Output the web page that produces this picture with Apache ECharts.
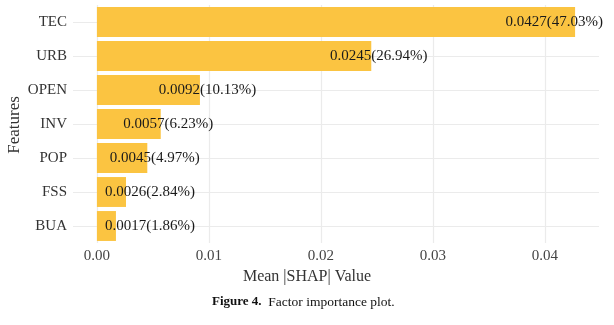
<!DOCTYPE html>
<html><head><meta charset="utf-8">
<script src="https://cdn.jsdelivr.net/npm/echarts@6/dist/echarts.min.js"></script>
<style>html,body{margin:0;padding:0;background:#fff}#c{width:614px;height:325px}</style>
</head><body><div id="c"></div>
<script>
const features = ['TEC','URB','OPEN','INV','POP','FSS','BUA'];
const meanShap = [0.0427,0.0245,0.0092,0.0057,0.0045,0.0026,0.0017];
const shares = ['47.03%','26.94%','10.13%','6.23%','4.97%','2.84%','1.86%'];
const xTickLabels = [0,0.01,0.02,0.03,0.04];
const xGridValues = [0,0.005,0.01,0.015,0.02,0.025,0.03,0.035,0.04];

const serif = '"Liberation Serif","Times New Roman",serif';
const maxV = Math.max(...meanShap);
const xMin = -maxV*0.05, xMax = maxV*1.05;
const chart = echarts.init(document.getElementById('c'), null, {renderer:'canvas'});
function build(offsets){
  return {
    animation:false,
    grid:{left:73,right:15,top:5,height:238,containLabel:false},
    xAxis:{type:'value',min:xMin,max:xMax,
      axisLine:{show:false},axisTick:{show:false},splitLine:{show:false},
      axisLabel:{customValues:xTickLabels,formatter:v=>v.toFixed(2),fontFamily:serif,fontSize:15,color:'#444',margin:6}},
    yAxis:{type:'category',data:features,inverse:true,
      axisLine:{show:false},axisTick:{show:false},
      splitLine:{show:true,alignWithLabel:true,lineStyle:{color:'#ebebeb',width:1.2}},
      axisLabel:{fontFamily:serif,fontSize:15,color:'#333',margin:6}},
    graphic:[
      {type:'text',left:'center',top:269,style:{text:'Mean |SHAP| Value',font:'16px '+serif,fill:'#333'}},
      {type:'text',x:6,y:125,rotation:Math.PI/2,style:{text:'Features',font:'17px '+serif,fill:'#333',align:'center',verticalAlign:'top'}},
      {type:'text',left:212,top:295,style:{rich:{b:{fontFamily:serif,fontWeight:'bold',fontSize:13,fill:'#111'},r:{fontFamily:serif,fontSize:13.5,fill:'#111'}},text:'{b|Figure 4.}{r|  Factor importance plot.}'}}
    ],
    series:[
      {type:'line',data:[],z:0,zlevel:0,silent:true,
        markLine:{silent:true,symbol:'none',label:{show:false},
          lineStyle:{color:'#ebebeb',type:'solid',width:1},
          data:xGridValues.map(v=>({xAxis:v,lineStyle:{width:(Math.round(v*1000)%10===0)?1.2:0.8}}))}},
      {type:'bar',z:2,zlevel:1,barCategoryGap:'12%',
        itemStyle:{color:'#FBC441'},
        label:{show:true,position:'right',distance:0,align:'center',verticalAlign:'middle',
          fontFamily:serif,fontSize:15,color:'#1a1a1a',
          formatter:p=>meanShap[p.dataIndex].toFixed(4)+'('+shares[p.dataIndex]+')'},
        data:meanShap.map((v,i)=>({value:v,label:{offset:[offsets?offsets[i]:0,0]}}))}
    ]
  };
}
chart.setOption(build(null));
const ctx = document.createElement('canvas').getContext('2d');
ctx.font = '15px '+serif;
const panelRight = chart.convertToPixel({xAxisIndex:0}, xMax);
const x0 = chart.convertToPixel({xAxisIndex:0}, 0);
const offsets = meanShap.map((v,i)=>{
  const end = chart.convertToPixel({xAxisIndex:0}, v);
  const w = ctx.measureText(v.toFixed(4)+'('+shares[i]+')').width;
  let c = Math.max(end+7.5, x0+53);
  if (c + w/2 > panelRight + 4) c = panelRight + 4 - w/2;
  return c - end;
});
chart.setOption(build(offsets));
</script></body></html>
